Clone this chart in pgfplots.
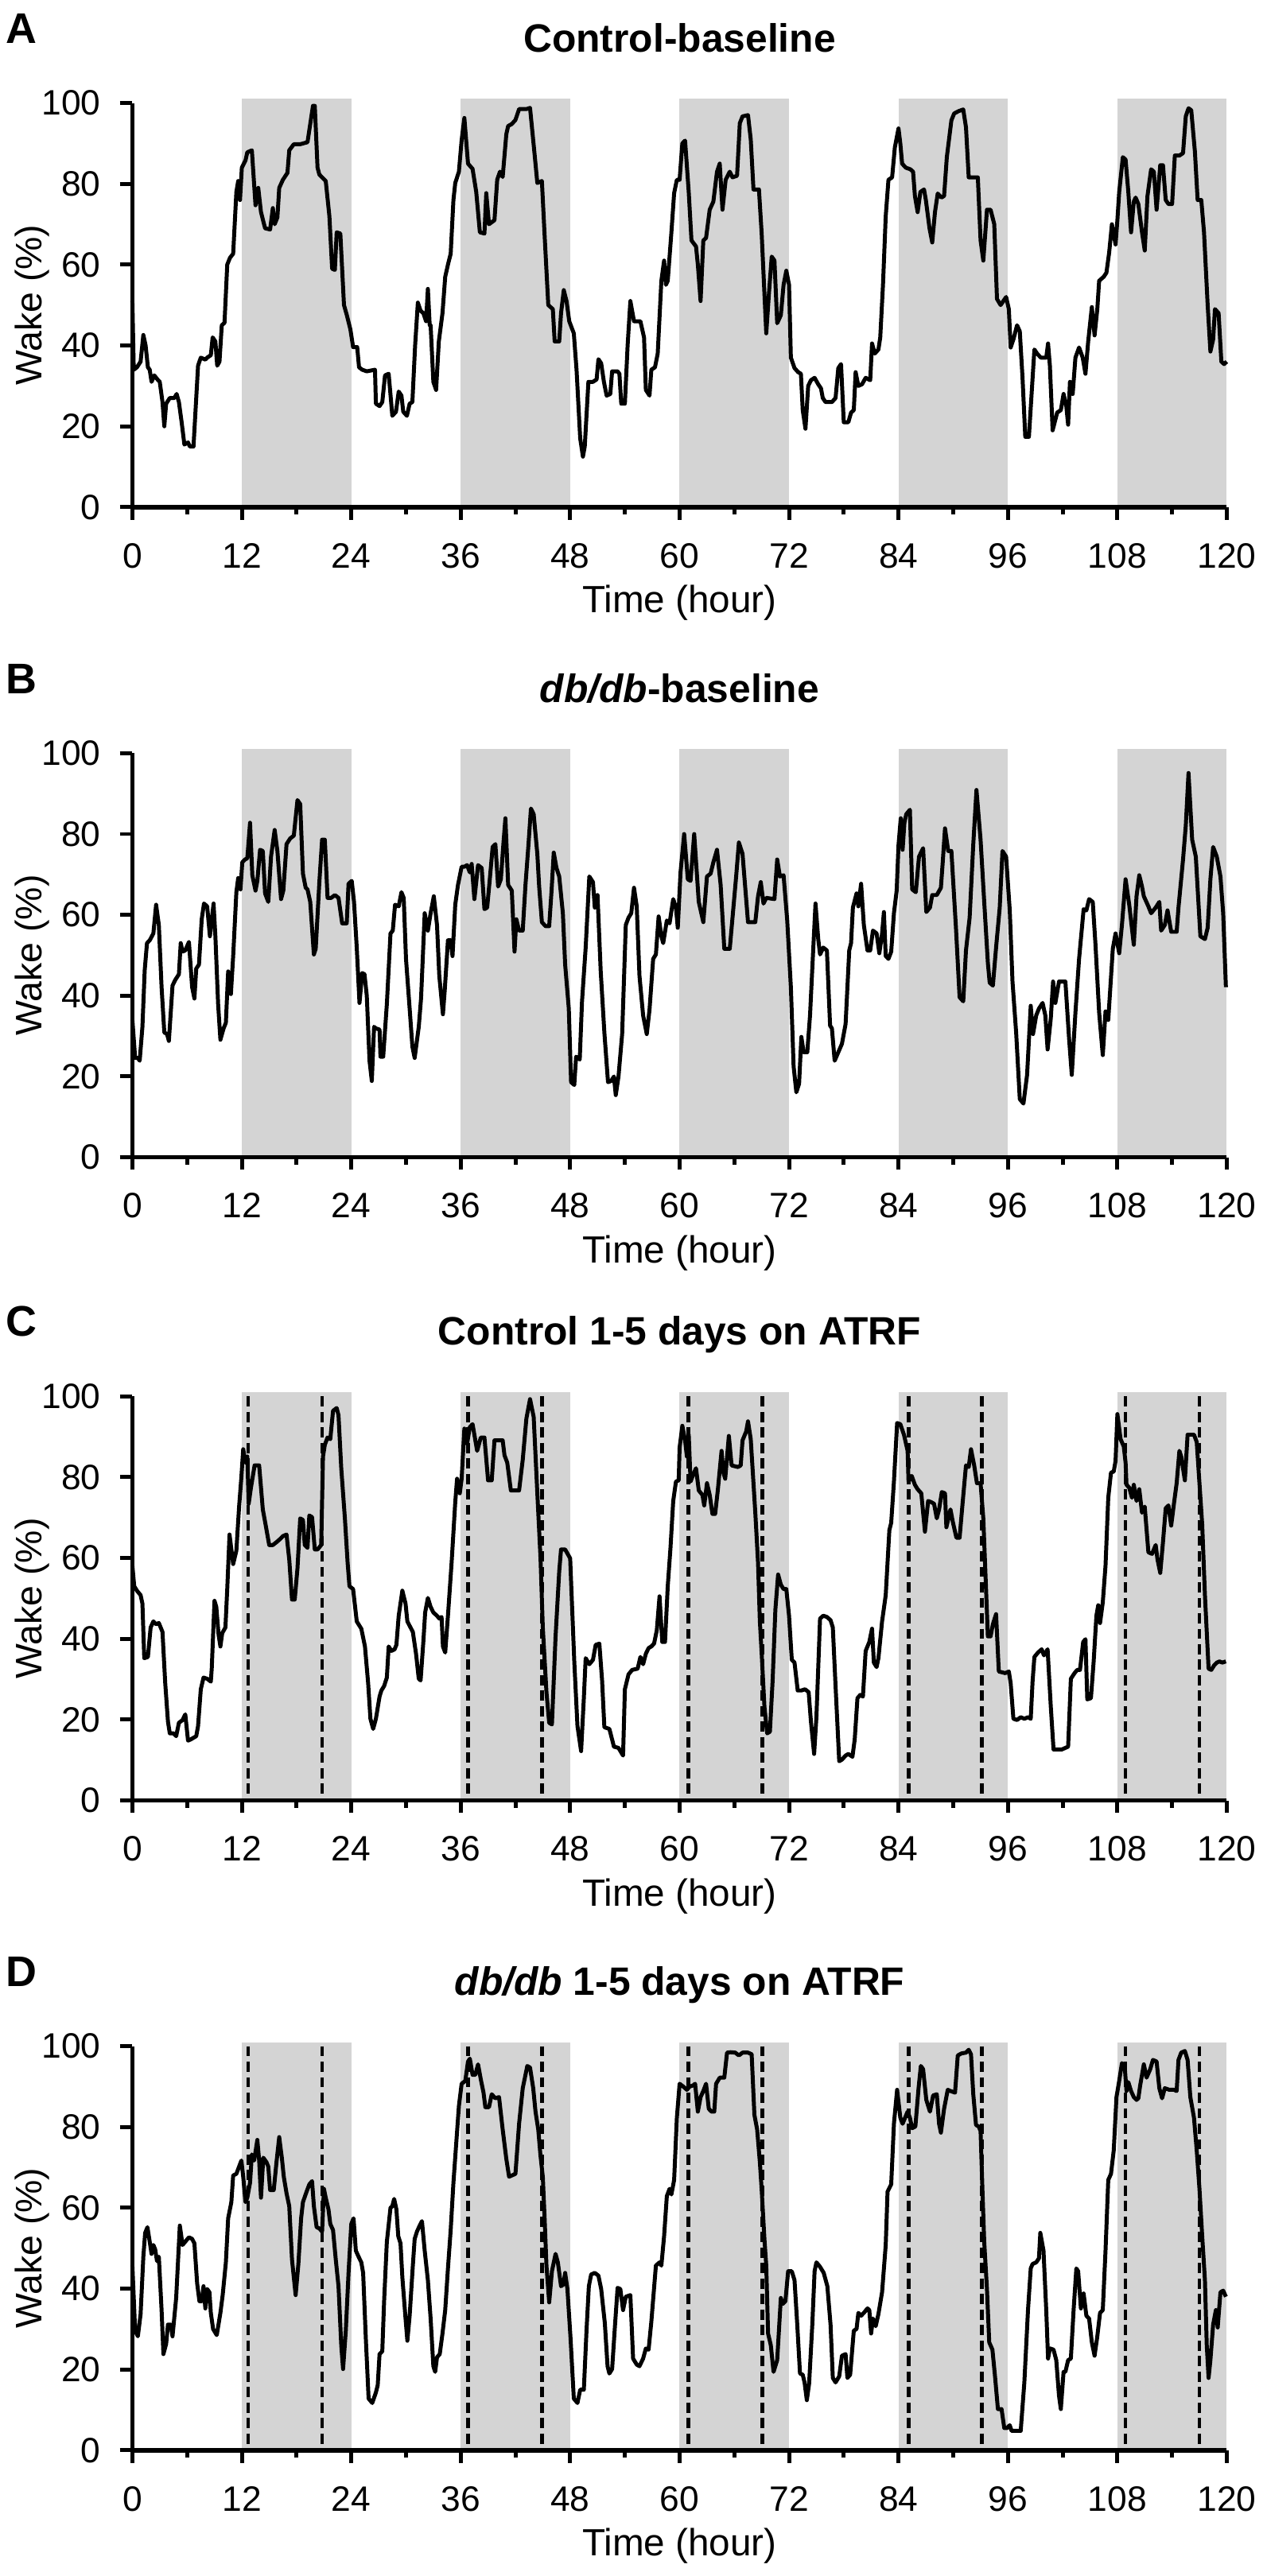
\documentclass[border=0pt]{standalone}
\usepackage{fontspec}
\setmainfont{Liberation Sans}
\usepackage{pgfplots}
\usepackage{pgfplotstable}
\pgfplotsset{compat=1.18}
\definecolor{shade}{RGB}{212,212,212}

\pgfplotstableread{
x y
0 51
0.15 34
0.5 34.6
0.9 36
1.2 42.6
1.45 40
1.7 34.6
1.9 34
2.1 31
2.4 32.6
2.75 31.6
3.0 31
3.3 26
3.5 20
3.7 25.6
4.1 27
4.6 27
4.85 28
5.1 26
5.4 21
5.7 15.5
6.1 16
6.3 15
6.7 15
7.2 35
7.5 37
8.0 36.5
8.2 37
8.6 37.6
8.8 42
9.1 41
9.3 35
9.55 36
9.8 45
10.1 45.6
10.4 60
10.7 61.7
11.05 62.7
11.4 78
11.6 80.7
11.8 76
12.0 84
12.4 85.8
12.6 87.8
13.1 88.3
13.5 74.7
13.8 79
14.1 73
14.55 69
15.1 68.7
15.4 74
15.6 70
15.9 71.7
16.1 79
16.5 81
17.0 82.7
17.2 88.3
17.7 89.8
18.4 89.8
19.2 90.3
19.4 93.3
19.8 99.3
20.0 99.3
20.3 84
20.5 82.3
21.2 80.7
21.6 72
21.9 59
22.2 58.7
22.4 68
22.8 67.7
23.2 50
23.5 47.6
23.9 44
24.2 39.6
24.65 39.6
24.85 34.6
25.2 34
25.7 33.6
26.6 34
26.7 25.6
27.1 25
27.4 26
27.7 32.6
28.1 33
28.5 22.6
28.9 23.6
29.2 28.6
29.5 27.6
29.7 23.6
30.1 22.6
30.4 25.6
30.7 26
31.0 40
31.3 50.6
31.6 48.6
31.9 48
32.2 46
32.4 54
32.6 45
32.7 45
33.0 31
33.3 29
33.6 41
34.0 48
34.3 57
34.6 60
34.9 62.7
35.2 76
35.4 80.2
35.8 83
36.1 90.8
36.4 96.3
36.8 85
37.3 83.7
37.7 78
38.1 68
38.6 67.7
38.8 77.7
39.1 70
39.7 71
40.0 81
40.3 83
40.6 81.7
41.0 92.3
41.2 94.3
41.6 94.8
42.0 95.8
42.4 98.5
43.2 98.5
43.6 98.8
44.1 87.3
44.4 80.2
44.9 80.7
45.2 67.2
45.6 50
46.1 49
46.3 41
46.8 41
47.0 48
47.3 53.7
47.6 51
47.9 46
48.4 43
48.7 34
49.1 17
49.4 12.5
49.6 15
50.0 31
50.5 31
50.9 31.6
51.1 36.6
51.4 35.6
51.7 31
52.0 27.6
52.4 28
52.6 33.6
53.2 33.6
53.4 33
53.6 25.6
54.0 25.6
54.3 40
54.6 51
55.0 46
55.4 46
55.7 46
56.1 42
56.3 29
56.7 27.6
56.9 34
57.3 34.6
57.6 38
58.0 56
58.3 61
58.5 55
58.7 56
59.1 68
59.4 77.7
59.7 81
60.0 81
60.3 90
60.6 90.7
61.0 78
61.3 66
61.8 64.5
62.0 60
62.3 51
62.6 66
62.9 66.6
63.3 73.6
63.7 75.6
64.1 83
64.4 85
64.7 73.6
65.05 81
65.5 83
65.8 81.6
66.3 82
66.6 95
66.9 96.7
67.5 97
67.8 91
68.1 78.6
68.7 78.6
69.0 67.6
69.5 43
69.8 53
70.1 62
70.4 61
70.7 45.5
71.1 47.5
71.4 55
71.7 58.5
72.0 55
72.2 37
72.6 34.4
73.0 33.4
73.3 33
73.5 24
73.8 19.4
74.1 30
74.4 31.4
74.8 32
75.2 30.4
75.5 29.4
75.7 27
76.0 26
76.7 26
77.1 27
77.4 34.4
77.7 35.4
78.0 21
78.5 21
78.8 23.4
79.1 24
79.3 33.4
79.6 30
80.0 30.4
80.4 32
80.9 31.4
81.1 40.5
81.4 38
81.8 39
82.0 42
82.3 55
82.6 72
82.9 81
83.3 81.6
83.6 89
84.0 93.7
84.2 90
84.4 85
84.8 84
85.3 83.6
85.6 83
85.8 77
86.1 73
86.4 78
86.8 78.6
87.0 76
87.4 69
87.7 65.5
88.0 73
88.3 77.6
88.7 76.6
89.0 77
89.3 86.6
89.8 95.7
90.1 97.4
90.6 98
91.1 98.4
91.4 94
91.7 81.6
92.1 81.6
92.7 81.6
93.0 66
93.3 61
93.7 73.6
94.1 73.6
94.5 70
94.8 51.5
95.2 50
95.8 52
96.1 49
96.3 39.5
96.6 41.5
97.0 45
97.3 43.5
97.6 32
97.9 17.4
98.3 17.4
98.9 39
99.2 38
99.6 37
100.2 37
100.4 40.5
100.6 35
100.9 19
101.4 23.4
101.8 24
102.1 28
102.4 25
102.6 20.4
102.8 31
103.1 28
103.4 37
103.8 39.5
104.2 37
104.5 33
104.8 41
105.2 49.5
105.5 42.5
105.8 49
106.0 56
106.5 57
106.8 58
107.1 63
107.4 70
107.8 65
108.0 71
108.2 78
108.6 86.6
108.9 86
109.2 78
109.5 68
109.8 75.6
110.0 76.6
110.3 75
110.7 68
111.0 63.5
111.3 77
111.7 83.6
112.0 83
112.3 73.6
112.7 84.6
113.0 84.6
113.3 76
113.6 75
114.0 75
114.3 87
114.8 87
115.2 87.6
115.5 96.7
115.8 98.7
116.1 98.2
116.5 88
116.8 76
117.2 76
117.5 68
117.9 50
118.2 38.5
118.5 41.5
118.7 49
119.1 48
119.4 36
119.7 35.4
120.0 36
}\dataA

\pgfplotstableread{
x y
0 34
0.3 24.6
0.6 24.6
0.8 23.9
1.1 32.3
1.35 46.3
1.6 53
1.9 53.7
2.3 55.4
2.6 62.5
2.9 57.5
3.2 42.1
3.5 30.9
3.8 30.5
4.0 28.8
4.4 42.5
4.7 43.9
5.1 45.3
5.3 53
5.5 50.9
5.8 51.2
6.2 53.3
6.55 42.1
6.8 39.3
7.0 46.7
7.3 47.7
7.6 58.9
7.85 62.8
8.2 62.1
8.5 54.7
8.9 62.8
9.1 54.7
9.4 37.9
9.65 29.1
10.0 31.9
10.25 33.3
10.5 46
10.8 40.4
11.05 49.8
11.4 65.6
11.6 69.1
11.85 66.3
12.05 73
12.35 73.7
12.6 74
12.9 82.8
13.15 69.8
13.5 66
13.7 68.4
14.0 76.1
14.3 75.8
14.55 65.3
14.9 63.2
15.2 74.4
15.6 81
15.9 75.8
16.3 63.9
16.55 66
16.9 77.5
17.3 78.9
17.7 79.6
18.1 88.4
18.4 87.4
18.7 70.2
19.0 66.7
19.2 66.3
19.5 63.2
19.9 50.2
20.1 51.6
20.5 68.1
20.8 78.6
21.1 78.6
21.4 64.2
21.8 64.2
22.2 64.9
22.6 64.2
23.0 57.9
23.5 57.9
23.7 67.7
24.05 68.4
24.3 63.2
24.6 51.9
24.9 38.2
25.2 45.6
25.45 45.3
25.7 40
26.0 23.9
26.25 18.9
26.5 32.3
26.7 31.9
27.1 31.6
27.2 24.9
27.5 24.9
27.9 37.9
28.3 55.4
28.55 56.1
28.8 62.5
29.2 62.1
29.5 65.6
29.75 64.2
30.0 49.1
30.4 36.8
30.7 27.4
30.95 24.6
31.4 32.3
31.65 39.3
32.05 60.4
32.4 56.1
32.7 60.4
33.05 64.6
33.4 57.5
33.65 44.9
34.05 35.4
34.25 41.4
34.6 53.7
34.9 53.7
35.1 49.8
35.4 62.5
35.7 67.4
36.1 71.9
36.4 71.9
36.7 72.3
37.0 70.5
37.2 72.6
37.5 63.9
37.9 72.3
38.3 71.6
38.6 61.4
38.9 61.8
39.2 69.1
39.5 76.8
39.8 77.5
40.1 67
40.4 68.8
40.7 78.2
40.9 83.9
41.2 67.4
41.6 66
41.9 50.9
42.1 58.9
42.4 56.1
42.8 56.1
43.1 67.4
43.4 76.5
43.7 86.3
44.0 84.9
44.4 75.1
44.6 67
44.9 58.2
45.3 57.2
45.7 57.2
45.96 66
46.2 75.4
46.5 71.6
46.8 69.5
47.2 60.4
47.45 47.7
47.85 36.8
48.1 18.6
48.45 17.9
48.65 24.9
49.05 24.2
49.3 38.6
49.7 51.9
50.1 69.5
50.5 68.1
50.7 61.8
51.0 64.9
51.35 46
51.75 30.9
52.15 18.6
52.5 18.9
52.8 20
53.0 15.4
53.3 20
53.7 30.5
54.1 57.5
54.4 59.3
54.7 60.4
55.0 66.7
55.3 62.1
55.6 44.9
56.0 35.1
56.4 30.5
56.7 36.5
57.1 49.1
57.4 50.2
57.7 59.6
58.0 54.7
58.2 53
58.6 58.6
58.9 57.9
59.3 63.9
59.6 61.8
59.8 56.8
60.1 70.5
60.5 80
60.9 68.8
61.2 68.4
61.6 80
62.1 63.2
62.6 58.2
63.0 69.5
63.4 70.2
63.7 73
64.1 76.1
64.5 67.4
64.9 51.6
65.5 51.6
66.2 69.5
66.5 77.9
66.9 75.1
67.5 58.2
68.3 58.2
68.6 64.6
68.9 68.1
69.2 62.8
69.5 64.2
70.4 63.9
70.7 73.7
71.0 69.5
71.4 69.8
71.8 58.6
72.2 42.1
72.5 22.5
72.8 16.1
73.1 18.2
73.35 29.8
73.6 26
74.0 26
74.3 35.1
74.6 49.1
74.9 62.8
75.2 54
75.4 50.2
75.75 51.9
76.15 51.2
76.5 32.6
76.7 31.9
77.0 23.9
77.4 26
77.8 28.1
78.2 33
78.6 51.2
78.8 53
79.0 61.8
79.4 65.3
79.6 62.1
79.9 67.7
80.2 57.5
80.6 51.2
80.9 51.2
81.2 56.1
81.6 55.4
81.9 50.5
82.2 55.4
82.4 60.7
82.6 49.8
82.9 49.1
83.2 50.9
83.5 60.4
83.8 66
84.0 77.2
84.25 83.9
84.45 76.1
84.65 82.8
84.85 84.9
85.25 86
85.5 66.3
85.9 65.6
86.25 74.4
86.7 76.5
87.05 60.7
87.45 61.8
87.7 64.9
88.2 64.9
88.65 66.7
88.85 73
89.1 81.4
89.45 75.8
89.8 75.8
90.3 56.8
90.7 39.6
91.1 38.6
91.4 51.2
91.8 59.3
92.2 77.5
92.55 90.9
93.0 78.6
93.4 63.2
93.8 48.1
94.0 43.2
94.35 42.5
94.7 51.9
95.1 61.8
95.4 75.8
95.8 74.4
96.2 61.1
96.5 43.5
96.9 30.9
97.3 14.4
97.7 13.3
98.1 20.4
98.5 37.5
98.75 30.5
99.1 35.1
99.4 36.8
99.8 38.2
100.1 35.1
100.35 26.7
100.7 34.4
100.95 43.5
101.2 38.2
101.6 43.5
102.3 43.5
102.7 29.5
103.0 20.4
103.4 35.8
103.8 49.1
104.3 61.4
104.6 61.1
104.9 63.9
105.3 63.2
105.6 52.6
106.0 35.8
106.4 25.3
106.7 36.1
107.0 34
107.5 51.6
107.8 55.4
108.2 50.5
108.5 57.5
108.9 68.8
109.3 62.5
109.8 52.6
110.1 64.6
110.4 69.8
110.7 67
110.9 64.6
111.4 62.1
111.7 60.4
112.2 61.8
112.6 63.2
112.8 56.1
113.2 57.5
113.5 61.1
113.9 55.8
114.5 55.8
114.7 61.8
115.2 73.7
115.5 82.1
115.8 95.1
116.2 78.6
116.6 74.4
117.1 54.7
117.6 54
117.9 56.8
118.2 68.8
118.5 76.8
118.9 74.4
119.3 69.5
119.6 60.4
119.9 42.1
}\dataB

\pgfplotstableread{
x y
0 58.1
0.2 53
0.5 51.9
0.9 50.8
1.1 48.7
1.3 35.2
1.7 35.5
2.0 42.8
2.3 44.3
2.6 43.6
2.9 43.9
3.3 41.7
3.6 29
3.9 19.5
4.1 16.6
4.5 16.6
4.8 15.9
5.1 19.2
5.5 19.9
5.8 21.3
6.1 14.8
6.4 15.1
6.7 15.5
7.0 15.9
7.2 18.4
7.5 27.5
7.8 30.4
8.2 30.1
8.6 29.4
8.7 32.6
9.0 49.4
9.2 47.9
9.45 41
9.65 38.1
9.85 41.4
10.2 42.8
10.4 52.3
10.65 65.8
11.05 58.5
11.4 61.8
11.7 72.7
11.95 80
12.15 86.9
12.4 83.6
12.6 85.1
12.75 73.4
13.0 77.4
13.4 82.9
13.9 82.9
14.3 72
14.6 68.3
15.0 63.2
15.4 63.2
15.8 63.9
16.2 64.7
16.5 65.4
16.9 65.8
17.2 59.6
17.5 49.7
17.8 49.7
18.1 57.4
18.4 69.8
18.7 69.4
18.9 63.2
19.2 62.5
19.4 70.5
19.7 70.1
20.0 62.1
20.3 62.1
20.7 63.2
20.9 85.1
21.1 88
21.4 89.8
21.7 89.4
22.0 96.4
22.4 97.1
22.6 95.3
22.9 82.2
23.3 69.8
23.6 58.8
23.8 53
24.2 52.3
24.6 44.3
25.1 42.5
25.5 38.1
25.85 29
26.1 20.2
26.4 17.7
26.7 20.2
27.1 25.7
27.3 27.2
27.6 28.3
27.9 30.4
28.1 38.1
28.4 37
28.75 37.4
28.95 38.5
29.2 45.7
29.6 51.9
29.95 48.7
30.15 44.3
30.4 43.2
30.75 41.7
31.1 36.3
31.4 30.1
31.6 29.7
31.9 39.2
32.1 46.5
32.4 50.1
32.7 47.9
33.0 46.5
33.4 45.7
33.65 45
33.9 45.4
34.05 38.1
34.3 36.6
34.6 45.7
35.0 58.8
35.4 73.8
35.6 79.6
35.9 76
36.1 79.6
36.4 92
36.7 88.3
37.0 92.4
37.3 93.1
37.8 86.5
38.2 89.8
38.6 89.8
39.0 79.2
39.4 79.2
39.7 89.1
40.6 89.1
40.8 85.4
41.1 83.6
41.5 76.7
42.4 76.7
42.8 84.3
43.2 94.5
43.6 99.3
44.0 94.9
44.4 76
44.75 59.9
45.0 42.8
45.4 26.8
45.7 19.2
46.0 18.8
46.4 40.6
46.8 56.7
47.0 62.1
47.45 62.1
48.0 59.9
48.45 34.4
48.8 18.4
49.2 12.2
49.5 25.3
49.7 35.2
50.1 33.7
50.5 34.8
50.8 38.5
51.2 38.8
51.5 29.7
51.75 18.1
52.3 17.7
52.8 13.3
53.3 13
53.8 11.1
54.0 27.5
54.4 31.2
54.8 32.3
55.4 32.6
55.7 35.5
56.0 33.7
56.3 36.3
56.6 37.7
56.9 38.1
57.2 38.8
57.5 42.1
57.8 50.5
58.1 39.2
58.4 39.2
58.7 53
59.0 62.5
59.3 74.1
59.6 78.9
59.9 79.2
60.0 87.3
60.3 92.7
60.6 89.1
60.8 85.1
61.0 90.5
61.2 78.9
61.5 80.7
61.8 82.2
62.1 76.7
62.5 75.6
62.7 73
63.0 78.5
63.3 75.6
63.6 70.9
63.9 70.9
64.2 77
64.6 86.5
64.8 81.1
65.0 79.6
65.4 90.2
65.7 82.9
66.4 82.5
66.7 82.9
66.9 89.1
67.3 91.3
67.5 93.8
67.8 89.4
68.3 71.2
68.6 58.8
68.8 44.3
69.0 36.3
69.3 23.2
69.6 16.6
69.9 17
70.2 29.7
70.5 47.2
70.8 55.9
71.1 53.4
71.4 52.3
71.7 52.3
72.0 45.7
72.3 34.8
72.6 34.1
72.95 27.2
73.35 27.2
73.75 27.5
74.15 26.8
74.4 19.5
74.75 11.5
75.0 20.6
75.4 45
75.75 45.7
76.15 45.4
76.55 44.6
76.8 42.8
77.1 28.3
77.5 9.7
77.8 10.1
78.2 11.1
78.5 11.5
78.95 10.8
79.2 15.1
79.5 25.3
79.8 26.1
80.1 25.7
80.4 37
80.8 39.2
81.1 42.5
81.3 34.1
81.6 33
81.8 35.2
82.2 44.3
82.6 50.8
83.0 66.9
83.2 68.7
83.5 78.9
83.85 93.4
84.2 93.1
84.6 90.5
85.0 86.5
85.1 78.9
85.45 80.3
85.8 78.1
86.1 77
86.5 76
86.9 66.5
87.25 74.1
87.6 73.8
87.9 73.4
88.2 69.8
88.45 72
88.75 76.3
89.1 76
89.25 67.6
89.7 72
89.95 69
90.35 65
90.7 65
91.05 74.1
91.4 82.9
91.7 82.5
91.95 86.9
92.3 82.9
92.6 78.5
93.0 78.5
93.3 69.8
93.55 55.2
93.8 40.6
94.1 40.6
94.35 43.6
94.7 46.1
95.0 31.9
95.7 31.5
96.1 31.9
96.3 29
96.6 20.2
97.0 19.9
97.4 20.6
97.8 20.2
98.2 20.6
98.5 20.2
98.7 29.4
98.9 35.5
99.3 36.6
99.7 37.4
99.95 35.9
100.35 37.4
100.7 23.2
101.0 12.6
101.4 12.6
101.9 12.6
102.3 13
102.6 13.3
102.9 30.1
103.3 31.5
103.6 32.3
103.9 32.3
104.25 39.2
104.5 39.9
104.7 25
105.1 25.3
105.4 34.4
105.7 45.7
105.9 48.3
106.1 43.9
106.4 49
106.7 58.1
107.0 74.9
107.3 81.1
107.6 81.4
107.8 84
108.0 95.6
108.35 89.4
108.7 87.6
108.9 83.6
109.0 78.1
109.3 77.4
109.6 74.9
109.8 78.1
110.1 74.1
110.4 77
110.7 71.2
111.0 72.7
111.4 61.4
111.8 61
112.2 63.2
112.4 59.6
112.7 56.3
113.0 63.9
113.3 72.3
113.6 73
113.9 68
114.2 73.4
114.5 78.5
114.8 86.5
115.0 85.1
115.4 79.2
115.7 90.5
116.4 90.5
116.7 88.7
117.0 78.5
117.3 68.3
117.6 50.8
118.0 32.6
118.3 32.3
118.6 33.4
118.9 34.1
119.2 34.4
119.5 34.1
119.9 34.4
}\dataC

\pgfplotstableread{
x y
0 45.7
0.3 29.6
0.6 28.2
0.9 33.7
1.2 47.9
1.4 53.8
1.65 55.2
1.9 51.6
2.1 48.6
2.3 50.8
2.5 49.7
2.7 46.8
2.9 47.9
3.2 34.7
3.4 23.8
3.7 26.3
3.9 31.1
4.2 31.1
4.4 28.2
4.8 37.7
5.2 55.6
5.5 50.8
5.9 51.9
6.2 52.7
6.55 52.3
6.8 51.2
7.1 41.3
7.35 36.9
7.6 36.9
7.8 40.6
8.0 35.1
8.2 39.9
8.45 39.1
8.6 34
8.85 30
9.25 28.5
9.65 34
9.9 38.4
10.25 46.5
10.5 57.4
10.85 61.4
11.05 68
11.4 68.4
11.65 69.9
11.95 71.7
12.15 67.7
12.4 61.4
12.6 62.5
12.9 66.2
13.1 73.2
13.35 71.7
13.7 76.8
13.9 71.7
14.1 62.5
14.35 72.4
14.7 71.3
14.9 70.2
15.1 64.4
15.5 64.4
15.8 71.3
16.1 77.5
16.4 72.1
16.6 67.7
16.9 63.6
17.2 60.4
17.5 47.2
17.9 38.4
18.2 46.1
18.5 57.4
18.7 61.4
19.1 64
19.4 65.8
19.7 66.6
19.9 60.4
20.2 55.2
20.5 54.9
20.8 54.1
21.0 64.7
21.2 62.5
21.5 59.6
21.7 56
22.0 54.5
22.3 47.2
22.6 40.6
22.9 26
23.1 20.1
23.4 29.6
23.7 43.9
24.0 56
24.25 57.4
24.5 49.4
24.8 47.9
25.1 46.5
25.3 43.9
25.6 27.4
25.9 12.8
26.3 11.7
26.7 14.3
26.9 16.1
27.1 23.8
27.4 24.5
27.6 36.9
27.9 51.6
28.3 60
28.5 60.4
28.7 62.2
28.95 59.6
29.15 53
29.4 51.2
29.6 42.8
29.95 32.6
30.15 27.1
30.4 33.3
30.75 45.7
30.95 52.3
31.2 54.1
31.5 55.6
31.75 56.7
32.05 49.4
32.4 42.1
32.7 32.6
33.0 20.8
33.2 19.4
33.4 23
33.7 23.8
34.0 28.9
34.3 34.7
34.6 45
34.9 54.5
35.2 66.2
35.5 75.7
35.8 85.2
36.1 90.7
36.5 91.4
36.8 96.2
37.0 96.9
37.3 92.9
37.6 92.9
37.9 95.5
38.2 91.8
38.5 88.5
38.7 84.9
39.1 84.9
39.4 88.1
39.8 87.1
40.2 87.4
40.6 79.4
41.0 72.1
41.3 67.7
41.6 68
42.0 68.4
42.4 80.8
42.8 89.6
43.3 95.1
43.6 94.7
43.95 89.6
44.2 83.8
44.5 79.4
44.75 72.8
45.0 67.7
45.2 57.4
45.4 45.7
45.7 36.6
46.0 44.3
46.4 48.6
46.65 46.5
47.0 40.6
47.25 41
47.45 43.9
47.7 39.9
48.05 27.4
48.4 12.8
48.8 11.7
49.1 15
49.5 15
49.8 30
50.05 40.6
50.3 43.5
50.7 43.9
51.1 43.2
51.4 39.9
51.8 31.5
52.1 20.8
52.3 19
52.6 20.1
52.9 30.4
53.2 40.2
53.5 39.9
53.8 34.7
54.1 38
54.6 38.4
54.9 22.7
55.3 21.2
55.6 20.8
56.0 22.7
56.3 25.2
56.6 24.9
56.9 31.8
57.4 45.7
57.8 46.5
58.0 45.7
58.3 53
58.6 62.9
58.9 64.7
59.1 63.3
59.4 66.9
59.7 82.3
60.0 90.7
60.4 90
60.8 89.2
61.1 90
61.5 90.3
61.7 90.7
62.0 83.8
62.3 87.4
62.6 88.9
62.9 90.7
63.2 84.5
63.5 83.8
63.8 83.8
64.0 90.7
64.4 92.2
64.9 92.2
65.2 98.4
65.6 98.5
66.1 98.4
66.5 97.7
66.9 98.4
67.5 98.4
67.9 98
68.2 83
68.5 79.4
68.8 71.3
69.0 64.4
69.3 52.3
69.5 45.7
69.7 28.9
70.0 26
70.3 19.4
70.7 22.3
71.1 37.7
71.3 36.2
71.6 36.9
71.9 44.3
72.3 44.3
72.6 42.1
72.9 31.1
73.2 19
73.5 18.7
73.7 16.8
73.95 12.4
74.2 16.5
74.55 31.1
74.8 44.3
75.0 46.5
75.4 45.4
75.8 43.9
76.2 40.6
76.55 31.1
76.8 17.9
77.1 16.8
77.5 18.3
77.8 23.4
78.2 23.8
78.4 17.9
78.7 18.7
79.1 29.6
79.4 30
79.6 34
79.9 33.3
80.2 34
80.6 35.1
80.8 34.7
81.0 28.9
81.2 32.6
81.5 30.7
81.8 33.7
82.2 39.1
82.6 50.8
82.8 64
83.2 65.8
83.5 80.8
83.85 89.2
84.2 82.3
84.45 80.8
85.0 83.8
85.25 82.3
85.5 79.7
85.85 80.1
86.2 89.6
86.45 95.1
86.7 94.3
87.05 86.7
87.45 83.8
87.8 87.8
88.2 88.1
88.45 80.8
88.65 78.6
89.0 84.5
89.4 89.2
89.7 88.9
90.2 88.5
90.5 97.7
90.9 98.2
91.4 98.4
91.7 99.1
91.95 98
92.2 88.1
92.5 80.5
92.8 80.1
93.0 79
93.2 64.7
93.4 51.6
93.7 39.9
93.95 26.7
94.3 24.9
94.6 17.9
94.9 10.2
95.3 10.2
95.6 5.5
95.9 5.5
96.2 6.2
96.4 4.8
97.0 4.8
97.4 4.8
97.8 16.8
98.2 34.7
98.5 45
98.7 46.1
99.1 46.5
99.4 47.5
99.55 53.8
99.9 49.4
100.2 34.7
100.4 22.7
100.6 25.2
101.0 24.9
101.3 22.3
101.6 13.5
101.8 10.2
102.1 19.4
102.3 19.4
102.6 22.3
102.9 22.7
103.2 34.7
103.5 45
103.7 44.3
104.0 35.1
104.3 38.8
104.6 33.3
104.9 32.6
105.2 26.7
105.5 23.4
105.8 28.2
106.1 34
106.4 34.7
106.7 49.4
107.0 66.9
107.3 68.4
107.6 74.2
107.9 87.4
108.2 91.4
108.5 95.8
108.8 95.1
109.0 88.9
109.2 91.1
109.5 88.9
109.8 87.4
110.1 86.7
110.3 87.1
110.5 90.3
110.9 95.5
111.2 92.2
111.6 94.3
111.9 96.6
112.3 96.2
112.6 89.6
112.9 87.1
113.2 89.6
113.7 89.2
114.2 89.2
114.5 88.9
114.7 96.6
115.0 98.4
115.4 98.8
115.7 96.6
116.0 87.4
116.4 82.3
116.7 74.2
117.0 64.7
117.3 53
117.6 42.1
117.8 26
118.0 17.9
118.2 22.3
118.5 31.1
118.8 34.7
119.0 30.4
119.3 39.1
119.6 39.5
119.9 38
}\dataD

\pgfplotsset{
  panel/.style={
    scale only axis, width=331.9pt, height=122.6pt,
    anchor=south west,
    xmin=0, xmax=120, ymin=0, ymax=100,
    axis lines*=left, axis on top, clip=false,
    axis line style={line width=1.3pt, black},
    tick style={line width=1.2pt, black},
    tick align=outside,
    major tick length=3.8pt, minor tick length=2.2pt,
    xtick={0,12,...,120}, minor xtick={6,18,...,114},
    ytick={0,20,...,100},
    /pgf/number format/assume math mode=true,
    ticklabel style={font=\fontsize{10.7}{12}\selectfont},
    xticklabel style={anchor=base, inner sep=0pt, yshift=-14.6pt},
    yticklabel style={anchor=east, inner sep=0pt, xshift=-5.6pt},
    xlabel={Time (hour)}, ylabel={Wake (\%)},
    every axis x label/.style={at={(axis description cs:0.5,-0.261)}, anchor=base, font=\fontsize{11.5}{13}\selectfont},
    every axis y label/.style={at={(axis description cs:-0.0829,0.5)}, anchor=base, rotate=90, font=\fontsize{11.2}{13}\selectfont},
    every axis title/.style={at={(axis description cs:0.5,1.1264)}, anchor=base, font=\bfseries\fontsize{12}{14}\selectfont},
  },
  trace/.style={black, line width=1.2pt, line join=round, mark=none},
  shadeband/.style={fill=shade, draw=none},
  dline/.style={black, line width=1.1pt, dash pattern=on 3.1pt off 1.6pt},
}
\newcommand{\bands}{%
  \addplot[shadeband] coordinates {(12,101) (24,101)} \closedcycle;
  \addplot[shadeband] coordinates {(36,101) (48,101)} \closedcycle;
  \addplot[shadeband] coordinates {(60,101) (72,101)} \closedcycle;
  \addplot[shadeband] coordinates {(84,101) (96,101)} \closedcycle;
  \addplot[shadeband] coordinates {(108,101) (120,101)} \closedcycle;
}
\newcommand{\dashes}{%
  \addplot[dline] coordinates {(12.7,100) (12.7,0)};
  \addplot[dline] coordinates {(20.8,100) (20.8,0)};
  \addplot[dline] coordinates {(36.8,100) (36.8,0)};
  \addplot[dline] coordinates {(44.9,100) (44.9,0)};
  \addplot[dline] coordinates {(60.95,100) (60.95,0)};
  \addplot[dline] coordinates {(69.05,100) (69.05,0)};
  \addplot[dline] coordinates {(85.1,100) (85.1,0)};
  \addplot[dline] coordinates {(93.15,100) (93.15,0)};
  \addplot[dline] coordinates {(108.9,100) (108.9,0)};
  \addplot[dline] coordinates {(117.0,100) (117.0,0)};
}

\begin{document}
\begin{tikzpicture}
\path[use as bounding box] (0,0) rectangle (384pt,-781.5pt);

\begin{axis}[panel, at={(40.15pt,-153.85pt)}, title={Control-baseline}]
\bands
\addplot[trace] table[x=x,y=y] {\dataA};
\end{axis}

\begin{axis}[panel, at={(40.15pt,-351.1pt)}, title={\textit{db/db}-baseline}]
\bands
\addplot[trace] table[x=x,y=y] {\dataB};
\end{axis}

\begin{axis}[panel, at={(40.15pt,-546.2pt)}, title={Control 1-5 days on ATRF}]
\bands
\dashes
\addplot[trace] table[x=x,y=y] {\dataC};
\end{axis}

\begin{axis}[panel, at={(40.15pt,-743.35pt)}, title={\textit{db/db} 1-5 days on ATRF}]
\bands
\dashes
\addplot[trace] table[x=x,y=y] {\dataD};
\end{axis}

\foreach \L/\Y in {A/-13.1pt, B/-210.35pt, C/-405.45pt, D/-602.6pt}{
  \node[anchor=base west, inner sep=0pt, font=\bfseries\fontsize{13}{15}\selectfont] at (1.6pt,\Y) {\L};
}
\end{tikzpicture}
\end{document}
